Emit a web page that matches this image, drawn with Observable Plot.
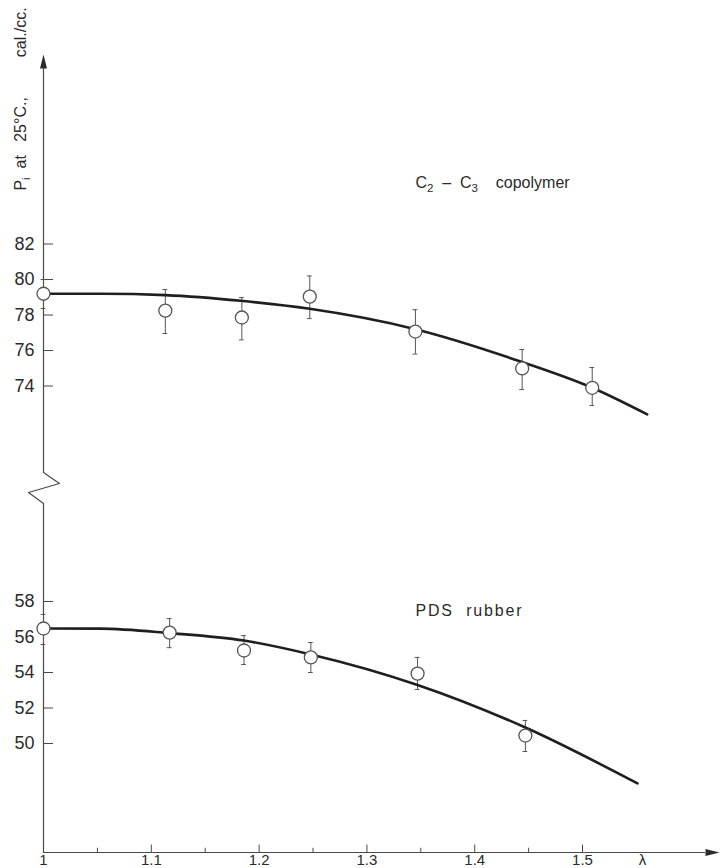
<!DOCTYPE html>
<html>
<head>
<meta charset="utf-8">
<script src="https://cdn.jsdelivr.net/npm/d3@7"></script>
<script src="https://cdn.jsdelivr.net/npm/@observablehq/plot@0.6"></script>
<style>
  html, body { margin: 0; padding: 0; background: #fff; overflow: hidden; }
  svg { display: block; }
  svg text { white-space: pre; }
</style>
</head>
<body>
<div id="chart"></div>
<script>
// ---- C2–C3 copolymer: internal pressure vs extension ratio λ ----
const copolymerLambda = [1.000, 1.113, 1.184, 1.247, 1.345, 1.444, 1.509];
const copolymerPi     = [79.2, 78.25, 77.86, 79.04, 77.07, 74.99, 73.9];
const copolymerLow    = [78.37, 76.96, 76.6, 77.8, 75.8, 73.8, 72.9];
const copolymerHigh   = [80.0, 79.44, 78.99, 80.2, 78.3, 76.06, 75.04];
// smooth curve drawn through the copolymer points
const copolymerFitLambda = [1.0, 1.053, 1.113, 1.183, 1.247, 1.345, 1.444, 1.509, 1.56];
const copolymerFitPi     = [79.2, 79.2, 79.12, 78.8, 78.35, 77.2, 75.35, 73.9, 72.4];

// ---- PDS rubber ----
const rubberLambda = [1.000, 1.117, 1.186, 1.248, 1.347, 1.447];
const rubberPi     = [56.48, 56.25, 55.24, 54.85, 53.94, 50.45];
const rubberLow    = [55.58, 55.4, 54.45, 54.0, 53.04, 49.55];
const rubberHigh   = [57.27, 57.04, 56.08, 55.69, 54.85, 51.3];
const rubberFitLambda = [1.0, 1.053, 1.117, 1.186, 1.248, 1.347, 1.447, 1.551];
const rubberFitPi     = [56.48, 56.47, 56.22, 55.8, 55.02, 53.3, 50.9, 47.75];

// ---- axis ticks ----
const copolymerTicks = [74, 76, 78, 80, 82];
const rubberTicks    = [50, 52, 54, 56, 58];
const xMajorTicks  = [1.0, 1.1, 1.2, 1.3, 1.4, 1.5];
const xTickLabels  = ["1", "1.1", "1.2", "1.3", "1.4", "1.5"];
const xMinorTicks  = [1.05, 1.15, 1.25, 1.35, 1.45];

// The y axis is broken: both series share one linear scale, with the
// rubber section moved up by this many units so it sits under the break.
const rubberShift = 3.86;
const yMin = 47.72, yMax = 95.72;

const copolymer = copolymerLambda.map((x, i) => ({x, y: copolymerPi[i], lo: copolymerLow[i], hi: copolymerHigh[i]}));
const copolymerFit = copolymerFitLambda.map((x, i) => ({x, y: copolymerFitPi[i]}));
const rubber = rubberLambda.map((x, i) => ({x, y: rubberPi[i] + rubberShift, lo: rubberLow[i] + rubberShift, hi: rubberHigh[i] + rubberShift}));
const rubberFit = rubberFitLambda.map((x, i) => ({x, y: rubberFitPi[i] + rubberShift}));

// vertical axis with a zigzag break between the two sections
const yAxisPath = [
  {x: 1, y: 91.89}, {x: 1, y: 69.13}, {x: 1.0148, y: 68.51},
  {x: 0.9861, y: 68.0}, {x: 1, y: 67.38}, {x: 1, y: yMin}
];

const ink = "#2b2b2b";
const axisInk = "#4a4a4a";
const cap = 0.0022;     // half width of the error-bar caps, in λ units
const tickLen = 0.0093; // length of the y tick marks, in λ units

function errorMarks(data) {
  return [
    Plot.ruleX(data, {x: "x", y1: "lo", y2: "hi", stroke: "#555", strokeWidth: 1}),
    Plot.ruleY(data, {y: "lo", x1: d => d.x - cap, x2: d => d.x + cap, stroke: "#555", strokeWidth: 1}),
    Plot.ruleY(data, {y: "hi", x1: d => d.x - cap, x2: d => d.x + cap, stroke: "#555", strokeWidth: 1})
  ];
}

const chart = Plot.plot({
  width: 720,
  height: 868,
  marginLeft: 43,
  marginRight: 0,
  marginTop: 0,
  marginBottom: 16,
  x: {domain: [1, 1.628], axis: null},
  y: {domain: [yMin, yMax], axis: null},
  style: {fontFamily: "'Liberation Sans', Arial, sans-serif", background: "#fff", color: ink, overflow: "visible"},
  marks: [
    // axes
    Plot.line(yAxisPath, {x: "x", y: "y", stroke: axisInk, strokeWidth: 1.2}),
    Plot.vector([0], {x: 1, y: 91.89, rotate: 0, length: 14, anchor: "start", shape: "spike", r: 3.5, fill: ink, stroke: "none"}),
    Plot.ruleY([yMin], {x1: 1, x2: 1.6141, stroke: axisInk, strokeWidth: 1.2}),
    Plot.vector([0], {x: 1.6141, y: yMin, rotate: 90, length: 14, anchor: "start", shape: "spike", r: 3.5, fill: ink, stroke: "none"}),

    // y ticks (pointing into the plot) and labels
    Plot.ruleY(copolymerTicks, {y: d => d, x1: 1, x2: 1 + tickLen, stroke: axisInk, strokeWidth: 1}),
    Plot.ruleY(rubberTicks.filter(d => d !== 56), {y: d => d + rubberShift, x1: 1, x2: 1 + tickLen, stroke: axisInk, strokeWidth: 1}),
    Plot.text(copolymerTicks, {x: 1, y: d => d, text: d => String(d), textAnchor: "end", dx: -9, fontSize: 18, fill: ink}),
    Plot.text(rubberTicks, {x: 1, y: d => d + rubberShift, text: d => String(d), textAnchor: "end", dx: -9, fontSize: 18, fill: ink}),

    // x ticks and labels
    Plot.ruleX(xMajorTicks.slice(1), {x: d => d, y1: yMin, y2: yMin + 0.42, stroke: axisInk, strokeWidth: 1}),
    Plot.ruleX(xMinorTicks, {x: d => d, y1: yMin, y2: yMin + 0.24, stroke: axisInk, strokeWidth: 1}),
    Plot.text(xMajorTicks, {x: d => d, y: yMin, text: (d, i) => xTickLabels[i], lineAnchor: "bottom", dy: 12.5, fontSize: 15, fill: ink}),
    Plot.text(["λ"], {x: 1.5557, y: yMin, text: d => d, lineAnchor: "bottom", dy: 12.5, fontSize: 15, fill: ink}),

    // axis title, reading upward
    Plot.text(["P_i  at   25°C.,         cal./cc."], {x: 0.9787, y: 85.01, text: d => d, rotate: -90, textAnchor: "start", fontSize: 16, fill: ink}),

    // error bars, fitted curves, then open circles on top
    ...errorMarks(copolymer),
    ...errorMarks(rubber),
    Plot.line(copolymerFit, {x: "x", y: "y", curve: "monotone-x", stroke: "#1f1f1f", strokeWidth: 2.6}),
    Plot.line(rubberFit, {x: "x", y: "y", curve: "monotone-x", stroke: "#1f1f1f", strokeWidth: 2.6}),
    Plot.dot(copolymer, {x: "x", y: "y", r: 6.5, fill: "#fff", stroke: "#555", strokeWidth: 1.3}),
    Plot.dot(rubber, {x: "x", y: "y", r: 6.5, fill: "#fff", stroke: "#555", strokeWidth: 1.3}),

    // series labels
    Plot.text(["C_2  –  C_3    copolymer"], {x: 1.345, y: 85.13, text: d => d, textAnchor: "start", lineAnchor: "bottom", fontSize: 16, fill: ink}),
    Plot.text(["PDS  rubber"], {x: 1.345, y: 61.07, text: d => d, textAnchor: "start", lineAnchor: "bottom", fontSize: 16, fill: ink})
  ]
});

d3.select(chart).selectAll("text").each(function () {
  const s = this.textContent;
  // the rubber label is set with wider letter spacing
  if (s === "PDS  rubber") d3.select(this).attr("letter-spacing", "1.8px");
  // turn "_x" into a lowered, smaller subscript character
  if (!s.includes("_")) return;
  const el = d3.select(this);
  el.text(null);
  const parts = s.split(/_(\S)/);
  let lowered = false;
  parts.forEach((p, i) => {
    if (i % 2) {
      el.append("tspan").attr("dy", 4).attr("font-size", "0.72em").text(p);
      lowered = true;
    } else if (p) {
      const t = el.append("tspan").text(p);
      if (lowered) { t.attr("dy", -4); lowered = false; }
    }
  });
});

document.getElementById("chart").append(chart);
</script>
</body>
</html>
